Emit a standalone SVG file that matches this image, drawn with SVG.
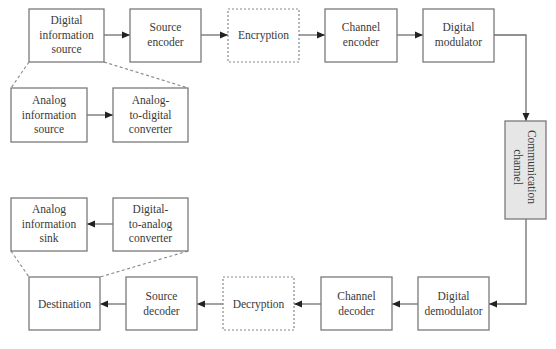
<svg xmlns="http://www.w3.org/2000/svg" width="556" height="349" viewBox="0 0 556 349">
<defs>
<style>
.box{fill:#fff;stroke:#7a7a7a;stroke-width:1.3}
.dbox{fill:#fff;stroke:#888;stroke-width:1.2;stroke-dasharray:2 2}
.ch{fill:#e6e6e6;stroke:#7a7a7a;stroke-width:1.3}
text{font-family:"Liberation Serif","Times New Roman",serif;font-size:11.5px;fill:#3a3a3a;text-anchor:middle}
.ln{fill:none;stroke:#6e6e6e;stroke-width:1.3}
.dl{fill:none;stroke:#888;stroke-width:1.1;stroke-dasharray:3 2.5}
</style>
<marker id="ah" viewBox="0 0 8 8" refX="8" refY="4" markerWidth="8" markerHeight="8" markerUnits="userSpaceOnUse" orient="auto">
<path d="M0,0.5 L8,4 L0,7.5 z" fill="#222"/>
</marker>
</defs>
<rect width="556" height="349" fill="#fff"/>
<g id="connectors">
<path class="ln" d="M104,35 H130" marker-end="url(#ah)"/>
<path class="ln" d="M201,35 H228" marker-end="url(#ah)"/>
<path class="ln" d="M299,35 H325" marker-end="url(#ah)"/>
<path class="ln" d="M397,35 H423" marker-end="url(#ah)"/>
<path class="ln" d="M494,35 H526 V121" marker-end="url(#ah)"/>
<path class="ln" d="M526,219 V304 H489" marker-end="url(#ah)"/>
<path class="ln" d="M418,304 H392" marker-end="url(#ah)"/>
<path class="ln" d="M321,304 H294" marker-end="url(#ah)"/>
<path class="ln" d="M223,304 H197" marker-end="url(#ah)"/>
<path class="ln" d="M126,304 H100" marker-end="url(#ah)"/>
<path class="ln" d="M87,115 H113" marker-end="url(#ah)"/>
<path class="ln" d="M113,224 H87" marker-end="url(#ah)"/>
<path class="dl" d="M29,62 L11,88"/>
<path class="dl" d="M104,62 L188,88"/>
<path class="dl" d="M11,251 L29,277"/>
<path class="dl" d="M188,251 L100,277"/>
</g>
<g id="digital-information-source">
<rect class="box" x="29" y="9" width="75" height="53"/>
<text x="66.5" y="24">Digital</text>
<text x="66.5" y="38.5">information</text>
<text x="66.5" y="53">source</text>
</g>
<g id="source-encoder">
<rect class="box" x="130" y="9" width="71" height="53"/>
<text x="165.5" y="31">Source</text>
<text x="165.5" y="45.5">encoder</text>
</g>
<g id="encryption">
<rect class="dbox" x="228" y="9" width="71" height="53"/>
<text x="263.5" y="39">Encryption</text>
</g>
<g id="channel-encoder">
<rect class="box" x="325" y="9" width="72" height="53"/>
<text x="361" y="31">Channel</text>
<text x="361" y="45.5">encoder</text>
</g>
<g id="digital-modulator">
<rect class="box" x="423" y="9" width="71" height="53"/>
<text x="458.5" y="31">Digital</text>
<text x="458.5" y="45.5">modulator</text>
</g>
<g id="analog-information-source">
<rect class="box" x="11" y="88" width="76" height="54"/>
<text x="49" y="104">Analog</text>
<text x="49" y="118.5">information</text>
<text x="49" y="133">source</text>
</g>
<g id="analog-to-digital-converter">
<rect class="box" x="113" y="88" width="75" height="54"/>
<text x="150.5" y="104">Analog-</text>
<text x="150.5" y="118.5">to-digital</text>
<text x="150.5" y="133">converter</text>
</g>
<g id="communication-channel">
<rect class="ch" x="505" y="121" width="41" height="98"/>
<g transform="translate(526,167) rotate(90)">
<text x="0" y="-2">Communication</text>
<text x="0" y="12.5">channel</text>
</g>
</g>
<g id="analog-information-sink">
<rect class="box" x="11" y="198" width="76" height="53"/>
<text x="49" y="213">Analog</text>
<text x="49" y="227.5">information</text>
<text x="49" y="242">sink</text>
</g>
<g id="digital-to-analog-converter">
<rect class="box" x="113" y="198" width="75" height="53"/>
<text x="150.5" y="213">Digital-</text>
<text x="150.5" y="227.5">to-analog</text>
<text x="150.5" y="242">converter</text>
</g>
<g id="destination">
<rect class="box" x="29" y="277" width="71" height="53"/>
<text x="64.5" y="308">Destination</text>
</g>
<g id="source-decoder">
<rect class="box" x="126" y="277" width="71" height="53"/>
<text x="161.5" y="300">Source</text>
<text x="161.5" y="314.5">decoder</text>
</g>
<g id="decryption">
<rect class="dbox" x="223" y="277" width="71" height="53"/>
<text x="258.5" y="308">Decryption</text>
</g>
<g id="channel-decoder">
<rect class="box" x="321" y="277" width="71" height="53"/>
<text x="356.5" y="300">Channel</text>
<text x="356.5" y="314.5">decoder</text>
</g>
<g id="digital-demodulator">
<rect class="box" x="418" y="277" width="71" height="53"/>
<text x="453.5" y="300">Digital</text>
<text x="453.5" y="314.5">demodulator</text>
</g>
</svg>
